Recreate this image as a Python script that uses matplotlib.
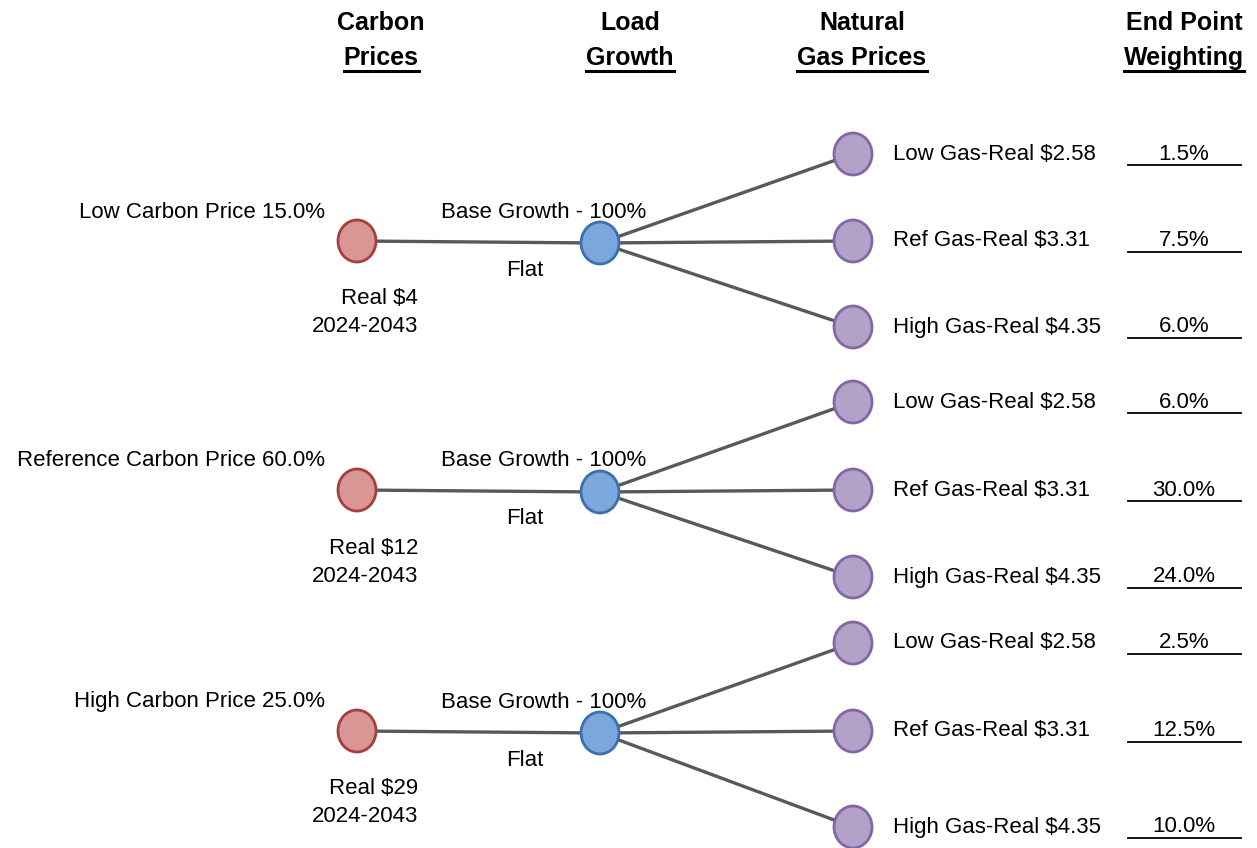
import matplotlib.pyplot as plt
from matplotlib.patches import Ellipse

plt.rcParams['font.family'] = ['Liberation Sans', 'DejaVu Sans']

# data
headers = [("Carbon", "Prices"), ("Load", "Growth"), ("Natural", "Gas Prices"), ("End Point", "Weighting")]
carbon_labels = ["Low Carbon Price 15.0%", "Reference Carbon Price 60.0%", "High Carbon Price 25.0%"]
carbon_prices = ["Real $4", "Real $12", "Real $29"]
carbon_years = ["2024-2043", "2024-2043", "2024-2043"]
load_labels = ["Base Growth - 100%"] * 3
load_sub = ["Flat"] * 3
gas_labels = ["Low Gas-Real $2.58", "Ref Gas-Real $3.31", "High Gas-Real $4.35"]
weights = [[1.5, 7.5, 6.0], [6.0, 30.0, 24.0], [2.5, 12.5, 10.0]]

# layout (pixels)
W, H = 1257, 848
x_carbon, x_load, x_gas, x_gas_txt, x_w = 357, 600, 853, 893, 1184
group_y = [241, 490, 731]
load_y = [243, 492, 733]
gas_y = [[154, 241, 327], [402, 490, 577], [643, 731, 827]]
node_w, node_h = 38, 42

fig = plt.figure(figsize=(W / 100, H / 100), dpi=100)
ax = fig.add_axes([0, 0, 1, 1])
ax.set_xlim(0, W)
ax.set_ylim(H, 0)
ax.axis('off')

def node(x, y, fc, ec):
    ax.add_patch(Ellipse((x, y), node_w, node_h, facecolor=fc, edgecolor=ec, lw=2, zorder=3))

fs = 16
line_c = '#595959'

for i, gy in enumerate(group_y):
    ly = load_y[i]
    ax.plot([x_carbon, x_load], [gy, ly], color=line_c, lw=2.4, zorder=1)
    node(x_carbon, gy, '#d99694', '#a3403d')
    node(x_load, ly, '#7ba7dc', '#3d6fad')
    ax.text(325, gy - 29, carbon_labels[i], ha='right', va='center', fontsize=fs)
    ax.text(418, gy + 58, carbon_prices[i], ha='right', va='center', fontsize=fs)
    ax.text(418, gy + 86, carbon_years[i], ha='right', va='center', fontsize=fs)
    ax.text(544, gy - 29, load_labels[i], ha='center', va='center', fontsize=fs)
    ax.text(525, gy + 29, load_sub[i], ha='center', va='center', fontsize=fs)
    for j, y in enumerate(gas_y[i]):
        ax.plot([x_load, x_gas], [ly, y], color=line_c, lw=2.4, zorder=1)
        node(x_gas, y, '#b3a2c7', '#8466a6')
        ax.text(x_gas_txt, y, gas_labels[j], ha='left', va='center', fontsize=fs)
        ax.text(x_w, y, f"{weights[i][j]:.1f}%", ha='center', va='center', fontsize=fs)
        ax.plot([1128, 1241], [y + 11, y + 11], color='black', lw=1.3)

hx = [381, 630, 862, 1184]
fig.canvas.draw()
rend = fig.canvas.get_renderer()
for x, (top, bot) in zip(hx, headers):
    ax.text(x, 23, top, ha='center', va='center', fontsize=18, fontweight='bold')
    t = ax.text(x, 58, bot, ha='center', va='center', fontsize=18, fontweight='bold')
    bb = t.get_window_extent(renderer=rend)
    ax.plot([bb.x0, bb.x1], [71, 71], color='black', lw=2.2)

fig.savefig('out.png', dpi=100)
